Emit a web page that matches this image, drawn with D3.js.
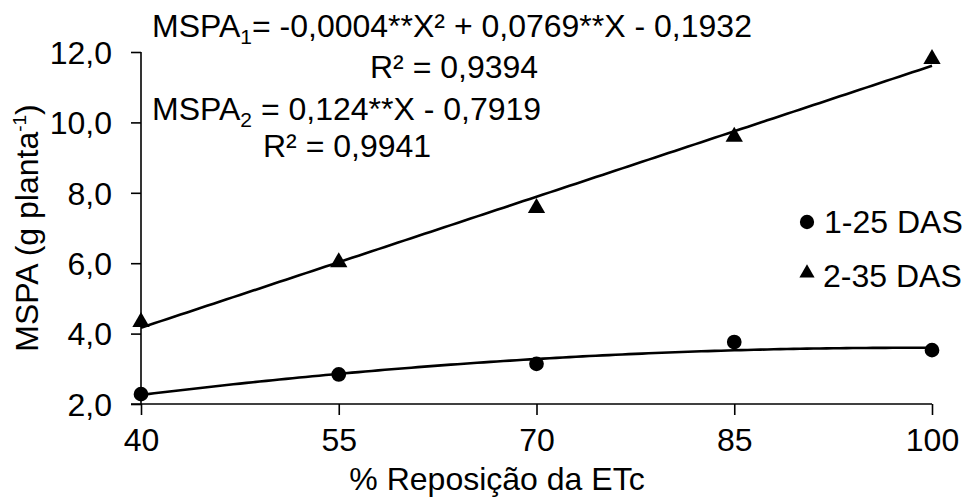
<!DOCTYPE html>
<html>
<head>
<meta charset="utf-8">
<script src="https://cdn.jsdelivr.net/npm/d3@7"></script>
<style>
  html, body { margin: 0; padding: 0; background: #fff; }
  svg { display: block; }
  text { font-family: "Liberation Sans", Arial, sans-serif; fill: #000; }
</style>
</head>
<body>
<svg id="chart" width="963" height="497"></svg>
<script>
// Irrigation levels (% ETc replacement)
const reposicao = [40, 55, 70, 85, 100];
// Shoot dry mass (g plant^-1) per evaluation period
const mspa25 = [2.28, 2.84, 3.14, 3.76, 3.53];
const mspa35 = [4.33, 6.03, 7.57, 9.59, 11.80];
// Fitted regression coefficients [x², x, constant]
const coefQuad = [-0.00039, 0.0769, -0.1932];
const coefLin = [0, 0.124, -0.7919];
const r2Quad = 0.9394;
const r2Lin = 0.9941;
// Axis ticks
const xTicks = [40, 55, 70, 85, 100];
const yTicks = [2, 4, 6, 8, 10, 12];
const seriesNames = ["1-25 DAS", "2-35 DAS"];

const svg = d3.select("#chart");
const x = d3.scaleLinear().domain([40, 100]).range([141, 932]);
const y = d3.scaleLinear().domain([2, 12]).range([404, 52]);

const fmtTick = v => d3.format(".1f")(v).replace(".", ",");
const fmtCoef = (v, p) => d3.format("." + p + "f")(Math.abs(v)).replace(".", ",");
const FS = 32;

// Axes
const xAxis = svg.append("g").attr("transform", `translate(0,${y(2)})`)
  .call(d3.axisBottom(x).tickValues(xTicks).tickSize(11).tickSizeOuter(0).tickFormat(d3.format("d")));
xAxis.select(".domain").remove();
xAxis.append("line").attr("x1", 131).attr("x2", x(100)).attr("stroke", "#000").attr("stroke-width", 1.6);
xAxis.selectAll(".tick line").attr("stroke", "#000").attr("stroke-width", 1.6);
xAxis.selectAll(".tick text").attr("font-size", FS).attr("font-family", "Liberation Sans, Arial").attr("dy", null).attr("y", 47);

const yAxis = svg.append("g").attr("transform", `translate(${x(40)},0)`)
  .call(d3.axisLeft(y).tickValues(yTicks).tickSize(10).tickSizeOuter(0).tickFormat(fmtTick));
yAxis.select(".domain").remove();
yAxis.append("line").attr("y1", y(12)).attr("y2", y(2)).attr("stroke", "#000").attr("stroke-width", 1.6);
yAxis.selectAll(".tick line").attr("stroke", "#000").attr("stroke-width", 1.6);
yAxis.selectAll(".tick text").attr("font-size", FS).attr("font-family", "Liberation Sans, Arial")
  .attr("x", -29).attr("dy", "0.35em");

// Regression curves
const xs = d3.range(40, 100.01, 0.5);
const poly = c => v => c[0] * v * v + c[1] * v + c[2];
const line = d3.line().x(d => x(d[0])).y(d => y(d[1]));
[coefQuad, coefLin].forEach(c => {
  const f = poly(c);
  svg.append("path").attr("d", line(xs.map(v => [v, f(v)])))
    .attr("fill", "none").attr("stroke", "#000").attr("stroke-width", 2.6);
});

// Data markers
const circleSym = d3.symbol().type(d3.symbolCircle).size(170);
const triSym = d3.symbol().type(d3.symbolTriangle).size(130);
svg.append("g").selectAll("path").data(reposicao).join("path")
  .attr("d", circleSym).attr("fill", "#000")
  .attr("transform", (d, i) => `translate(${x(d)},${y(mspa25[i])})`);
svg.append("g").selectAll("path").data(reposicao).join("path")
  .attr("d", triSym).attr("fill", "#000")
  .attr("transform", (d, i) => `translate(${x(d)},${y(mspa35[i])})`);

// Legend
const leg = svg.append("g");
leg.append("path").attr("d", d3.symbol().type(d3.symbolCircle).size(160)).attr("transform", "translate(807,222)");
leg.append("path").attr("d", d3.symbol().type(d3.symbolTriangle).size(100)).attr("transform", "translate(807,273)");
leg.append("text").attr("x", 824).attr("y", 233).attr("font-size", FS).text(seriesNames[0]);
leg.append("text").attr("x", 823).attr("y", 287).attr("font-size", FS).text(seriesNames[1]);

// Equations
const sign = v => v < 0 ? "-" : "+";
const eq1 = svg.append("text").attr("x", 152).attr("y", 37).attr("font-size", FS);
eq1.append("tspan").text("MSPA");
eq1.append("tspan").attr("font-size", 21).attr("dy", 7).text("1");
eq1.append("tspan").attr("dy", -7).text(`= ${sign(coefQuad[0])}${fmtCoef(coefQuad[0], 4)}**X² ${sign(coefQuad[1])} ${fmtCoef(coefQuad[1], 4)}**X ${sign(coefQuad[2])} ${fmtCoef(coefQuad[2], 4)}`);
svg.append("text").attr("x", 370).attr("y", 78).attr("font-size", FS)
  .text(`R² = ${fmtCoef(r2Quad, 4)}`);

const eq2 = svg.append("text").attr("x", 152).attr("y", 120).attr("font-size", FS);
eq2.append("tspan").text("MSPA");
eq2.append("tspan").attr("font-size", 21).attr("dy", 7).text("2");
eq2.append("tspan").attr("dy", -7).text(` = ${fmtCoef(coefLin[1], 3)}**X ${sign(coefLin[2])} ${fmtCoef(coefLin[2], 4)}`);
svg.append("text").attr("x", 263).attr("y", 157).attr("font-size", FS)
  .text(`R² = ${fmtCoef(r2Lin, 4)}`);

// Axis titles
svg.append("text").attr("x", 497).attr("y", 490).attr("text-anchor", "middle").attr("font-size", FS)
  .text("% Reposição da ETc");
const yl = svg.append("text").attr("transform", "translate(38,228) rotate(-90)")
  .attr("text-anchor", "middle").attr("font-size", FS);
yl.append("tspan").text("MSPA (g planta");
yl.append("tspan").attr("font-size", 19).attr("dy", -12).text("-1");
yl.append("tspan").attr("dy", 12).text(")");
</script>
</body>
</html>
